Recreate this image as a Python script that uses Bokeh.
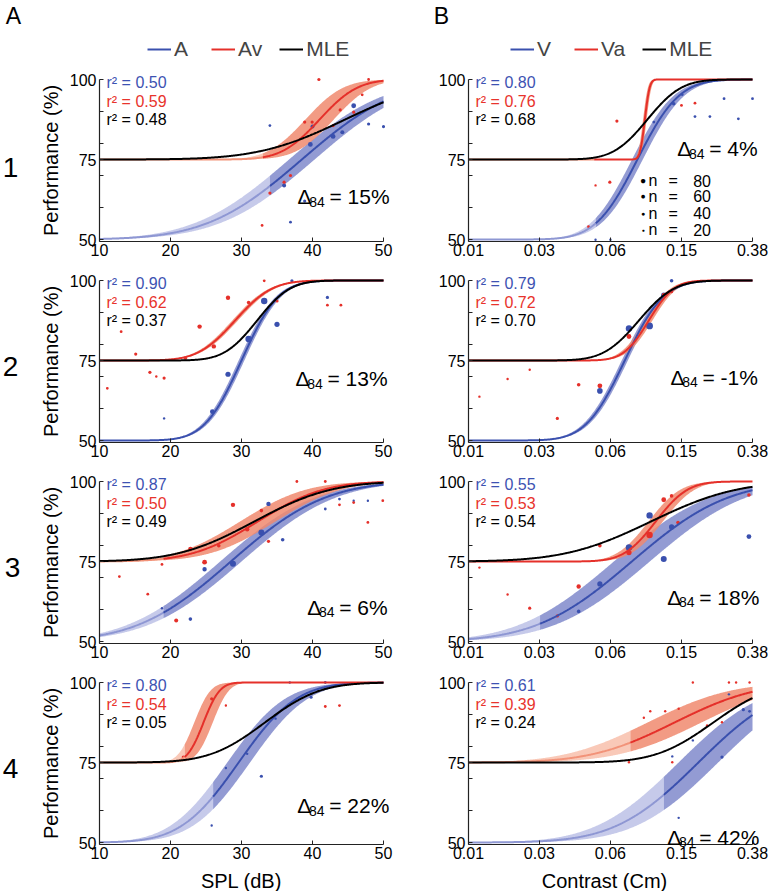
import math
import numpy as np
from bokeh.plotting import figure
from bokeh.layouts import column, row
from bokeh.models import (Label, Legend, LegendItem, FixedTicker, ColumnDataSource,
                          CustomJSTickFormatter)
from bokeh.embed import file_html
from bokeh.resources import INLINE

FONT = "Liberation Sans"

# ---------------- data ----------------
rows_ids = ["1", "2", "3", "4"]

# Left column: SPL (dB); psychometric fits (cumulative normal): mu, sd, CI shift, start of tested range
spl_blue_mu = [38.5, 30.0, 28.5, 29.6]
spl_blue_sd = [10.5, 4.1, 10.4, 6.4]
spl_blue_ci = [1.8, 0.4, 1.5, 1.6]
spl_blue_lo = [34, 10, 19, 26]
spl_red_mu = [41.0, 29.1, 32.3, 24.65]
spl_red_sd = [4.2, 4.1, 7.3, 1.8]
spl_red_ci = [2.0, 0.4, 2.5, 1.3]
spl_red_lo = [33, 10, 19, 22]
spl_mle_mu = [44.6, 32.2, 31.8, 33.3]
spl_mle_sd = [9.5, 3.64, 8.5, 6.1]

# Right column: contrast (Cm); mu in contrast, sd and CI in log10 units
con_blue_mu = [0.087, 0.074, 0.081, 0.19]
con_blue_sd = [0.182, 0.17, 0.419, 0.363]
con_blue_ci = [0.03, 0.017, 0.1, 0.11]
con_blue_lo = [0.051, 0.01, 0.025, 0.122]
con_red_mu = [0.0957, 0.1007, 0.11, 0.14]
con_red_sd = [0.0213, 0.11, 0.14, 0.363]
con_red_ci = [0.01, 0.02, 0.04, 0.15]
con_red_lo = [0.05, 0.01, 0.01, 0.0795]
con_mle_mu = [0.0989, 0.0887, 0.1035, 0.23]
con_mle_sd = [0.149, 0.154, 0.375, 0.253]

# r^2 values
spl_r2_blue = ["0.50", "0.90", "0.87", "0.80"]
spl_r2_red = ["0.59", "0.62", "0.50", "0.54"]
spl_r2_mle = ["0.48", "0.37", "0.49", "0.05"]
con_r2_blue = ["0.80", "0.79", "0.55", "0.61"]
con_r2_red = ["0.76", "0.72", "0.53", "0.39"]
con_r2_mle = ["0.68", "0.70", "0.54", "0.24"]

spl_delta = ["15%", "13%", "6%", "22%"]
con_delta = ["4%", "-1%", "18%", "42%"]

# data points: (x, performance %, n trials)
spl_blue_pts = [
    [(34, 85.6, 15), (40, 85.3, 30), (45.8, 91.8, 40), (47.9, 86.1, 20), (50, 85.3, 20),
     (39.7, 79.7, 40), (42.9, 82.2, 40), (44.2, 83.5, 30), (36, 66.9, 30), (38.9, 62, 20),
     (36.9, 55.4, 15)],
    [(19.1, 56.9, 10), (25.9, 59, 40), (28.1, 70.7, 45), (31, 81.7, 60), (33.2, 93.6, 60),
     (35, 86.3, 45), (37.1, 99.9, 20), (42.1, 94.7, 20)],
    [(18.8, 60.4, 10), (22.8, 57, 25), (24.8, 72.6, 35), (28.8, 74.3, 55), (32.8, 84.1, 55),
     (33.8, 93, 35), (35.8, 81.8, 25), (41.8, 91.4, 15), (43.8, 94.5, 15), (45.8, 94, 10),
     (47.8, 94, 10)],
    [(27.8, 73.3, 10), (25.8, 55.3, 10), (30.8, 77.7, 10), (32.8, 70.7, 20), (34.8, 88.7, 10),
     (36.8, 100, 10), (39.8, 95.4, 20), (41.8, 100, 15)],
]
spl_red_pts = [
    [(40.9, 100, 20), (38.9, 86.7, 20), (39.95, 86.7, 20), (43.9, 90.5, 20), (45.8, 89.8, 20),
     (47, 95.2, 15), (47.9, 100, 15), (42.9, 85.6, 20), (36.9, 70, 20), (36, 67.9, 20),
     (34, 64.5, 20), (32.9, 54.4, 15)],
    [(11.1, 66.3, 15), (13.05, 84, 15), (15.1, 77, 20), (17.1, 71.3, 20), (18, 70, 10),
     (19.1, 69.5, 20), (22.1, 75.7, 20), (24.1, 85.6, 35), (26.1, 79.4, 35), (28.1, 94.6, 35),
     (31, 93.1, 25), (33.2, 99.9, 15), (35, 93.6, 20), (42.1, 92.3, 15), (44, 92.3, 15)],
    [(12.8, 70.3, 15), (16.8, 64.8, 15), (18.8, 74.1, 15), (20.8, 56.6, 30), (22.8, 78.9, 35),
     (24.8, 74.8, 40), (26.8, 79.9, 25), (28.8, 92.7, 35), (30.8, 85.1, 35), (32.8, 90.9, 25),
     (33.8, 81.3, 20), (37.8, 100, 15), (41.8, 100, 15), (43.8, 92.7, 15), (45.8, 93.4, 15),
     (47.8, 87.2, 15), (49.9, 94, 15)],
    [(21.8, 76.7, 20), (25.8, 94.9, 20), (27.8, 92.8, 10), (41.8, 92.5, 15), (43.8, 92.8, 15)],
]
con_blue_pts = [
    [(0.1385, 92.4, 25), (0.1544, 95.3, 15), (0.1819, 88.4, 15), (0.2202, 88.4, 15),
     (0.264, 94, 15), (0.317, 87.7, 15), (0.38, 94, 15), (0.0509, 49.9, 10), (0.0616, 49.9, 10),
     (0.1074, 86.7, 15)],
    [(0.0538, 65.5, 50), (0.0781, 85, 60), (0.1017, 85.8, 65), (0.1219, 95.4, 45),
     (0.1348, 99.9, 25)],
    [(0.041, 59.4, 25), (0.0538, 68, 45), (0.0781, 79.4, 60), (0.1017, 89.4, 60),
     (0.1219, 75.8, 55), (0.1348, 85.8, 45), (0.363, 82.8, 40)],
    [(0.136, 76.9, 10), (0.177, 81.9, 10), (0.1476, 57.7, 10), (0.257, 76.7, 20),
     (0.281, 96.3, 10), (0.338, 91.5, 20), (0.366, 91, 15)],
]
con_red_pts = [
    [(0.0669, 87, 20), (0.0509, 66.9, 10), (0.0611, 67.9, 20), (0.153, 91.9, 15),
     (0.1819, 92.6, 15), (0.0465, 54, 15)],
    [(0.0115, 63.7, 10), (0.0165, 69.2, 10), (0.0219, 72.1, 10), (0.0312, 56.9, 20),
     (0.041, 67.4, 25), (0.0538, 67.1, 40), (0.0781, 82.5, 40), (0.1219, 95.5, 30),
     (0.1348, 96.5, 20)],
    [(0.0115, 73.1, 10), (0.0165, 64.7, 10), (0.0219, 60.4, 20), (0.0312, 58, 20),
     (0.041, 67.2, 35), (0.0538, 79.9, 25), (0.0781, 77.8, 45), (0.1017, 83.3, 60),
     (0.1219, 94.3, 40), (0.1348, 95.5, 25), (0.1463, 87.2, 25), (0.363, 95.8, 25)],
    [(0.0781, 75.1, 10), (0.0945, 89, 10), (0.1026, 91, 10), (0.1242, 91, 10),
     (0.1476, 91.8, 10), (0.177, 100, 10), (0.281, 100, 10), (0.308, 100, 10),
     (0.366, 100, 10), (0.136, 75.1, 10), (0.2124, 86.6, 10), (0.257, 87.6, 10)],
]

spl_ticks = [10, 20, 30, 40, 50]
con_ticks = [0.01, 0.0248, 0.0616, 0.153, 0.38]
con_tick_labels = ["0.01", "0.03", "0.06", "0.15", "0.38"]
perf_ticks = [50, 60, 70, 75, 80, 90, 100]
size_legend_n = [80, 60, 40, 20]

# ---------------- layout (page pixels) ----------------
ROW_TOP = [0, 265, 466, 667]
ROW_H = [265, 201, 201, 224]
Y100 = [79, 280, 481, 682]      # pixel row of 100 %
PXU = 3.2                        # pixels per % point
YMIN = 49.4                      # where the x axis sits
COL_X0 = [0, 393]
COL_W = [393, 380]
L_X10, L_PX = 99, 7.1            # SPL: x=10 pixel, px per dB
R_X0, R_W = 468, 284             # contrast: pixel of 0.01, width to 0.38

# ---------------- style ----------------
BLUE = "#3A50AE"
BLUE_L = "#8E97D3"
BLUE_BAND = "#8089CB"
BLUE_BAND_L = "#BCC1E6"
RED = "#E5302A"
RED_L = "#F29379"
RED_BAND = "#F08A6E"
RED_BAND_L = "#F8C0AC"
BLUE_TXT = "#3D52B2"
RED_TXT = "#E8332C"

_erf = np.vectorize(math.erf)


def psy(x, mu, sd, floor, log):
    if log:
        z = (np.log10(x) - np.log10(mu)) / sd
    else:
        z = (x - mu) / sd
    return floor + (100.0 - floor) * 0.5 * (1.0 + _erf(z / math.sqrt(2.0)))


def band_curve(p, xs, mu, sd, ci, lo, floor, log, cb, cbl):
    xs = np.union1d(xs, [lo])
    y = psy(xs, mu, sd, floor, log)
    if log:
        a = psy(xs, mu * 10 ** (-ci), sd, floor, log)
        b = psy(xs, mu * 10 ** ci, sd, floor, log)
    else:
        a = psy(xs, mu - ci, sd, floor, log)
        b = psy(xs, mu + ci, sd, floor, log)
    lower = np.minimum(a, b)
    upper = np.maximum(a, b)
    m1 = xs <= lo
    m2 = xs >= lo
    if m1.sum() > 1:
        p.varea(x=xs[m1], y1=lower[m1], y2=upper[m1], fill_color=cbl, fill_alpha=0.85)
    p.varea(x=xs[m2], y1=lower[m2], y2=upper[m2], fill_color=cb, fill_alpha=0.85)
    return xs, y, m1, m2


def draw_line(p, xs, y, m1, m2, cl, cll):
    if m1.sum() > 1:
        p.line(xs[m1], y[m1], line_color=cll, line_width=2)
    return p.line(xs[m2], y[m2], line_color=cl, line_width=2)


class Panel:
    def __init__(self, kind, i):
        c = 0 if kind == "spl" else 1
        self.x0 = COL_X0[c]
        self.top = ROW_TOP[i]
        self.h = ROW_H[i]
        w = COL_W[c]
        y_end = 100 + (Y100[i] - self.top) / PXU
        y_start = 100 - (self.top + self.h - Y100[i]) / PXU
        common = dict(width=w, height=self.h, y_range=(y_start, y_end), output_backend="svg",
                      toolbar_location=None, tools="", title_location=None)
        if kind == "spl":
            xs = spl_ticks[0] - (L_X10 - self.x0) / L_PX
            xe = spl_ticks[0] + (self.x0 + w - L_X10) / L_PX
            p = figure(x_range=(xs, xe), **common)
            xloc, xb = spl_ticks[0], (spl_ticks[0], spl_ticks[-1])
        else:
            f = (con_ticks[-1] / con_ticks[0]) ** (1.0 / R_W)
            xs = con_ticks[0] * f ** (-(R_X0 - self.x0))
            xe = con_ticks[-1] * f ** (self.x0 + w - (R_X0 + R_W))
            p = figure(x_axis_type="log", x_range=(xs, xe), **common)
            xloc, xb = con_ticks[0], (con_ticks[0], con_ticks[-1])
        p.min_border = 0
        p.min_border_left = p.min_border_right = p.min_border_top = p.min_border_bottom = 0
        p.outline_line_color = None
        p.xgrid.visible = False
        p.ygrid.visible = False
        p.background_fill_color = "white"
        p.border_fill_color = "white"
        for ax in (p.xaxis[0], p.yaxis[0]):
            ax.axis_line_color = "#222222"
            ax.axis_line_width = 1.2
            ax.major_tick_line_color = "#222222"
            ax.major_tick_in = 4
            ax.major_tick_out = 0
            ax.minor_tick_line_color = None
            ax.major_label_text_font = FONT
            ax.major_label_text_font_size = "16px"
            ax.major_label_text_color = "black"
            ax.major_label_standoff = 3
        p.xaxis[0].fixed_location = YMIN
        p.xaxis[0].bounds = xb
        p.yaxis[0].fixed_location = xloc
        p.yaxis[0].bounds = (YMIN, 100)
        p.yaxis.ticker = FixedTicker(ticks=perf_ticks)
        p.yaxis.major_label_overrides = {60: "", 70: "", 80: "", 90: ""}
        if kind == "spl":
            p.xaxis.ticker = FixedTicker(ticks=spl_ticks)
        else:
            p.xaxis.ticker = FixedTicker(ticks=con_ticks)
            p.xaxis.formatter = CustomJSTickFormatter(
                args=dict(vals=con_ticks, labels=con_tick_labels),
                code="""
                let best = 0;
                for (let i = 0; i < vals.length; i++) {
                  if (Math.abs(Math.log(vals[i] / tick)) < Math.abs(Math.log(vals[best] / tick))) best = i;
                }
                return labels[best];
                """)
        self.p = p

    def sx(self, X):
        return X - self.x0

    def sy(self, Y):
        return self.top + self.h - Y

    def lab(self, X, Y, text, size, color="black", align="left", baseline="alphabetic", angle=0.0):
        self.p.add_layout(Label(x=self.sx(X), y=self.sy(Y), x_units="screen", y_units="screen",
                                text=text, text_font=FONT, text_font_size=size,
                                text_color=color, text_align=align, text_baseline=baseline,
                                angle=angle))


def dots(p, pts, color):
    src = ColumnDataSource(dict(x=[q[0] for q in pts], y=[q[1] for q in pts],
                                s=[1.6 + 0.08 * q[2] for q in pts]))
    p.scatter("x", "y", size="s", source=src, fill_color=color, line_color=None)


spl_x = np.linspace(spl_ticks[0], spl_ticks[-1], 400)
con_x = np.logspace(math.log10(con_ticks[0]), math.log10(con_ticks[-1]), 400)

# Δ label anchors: (left of Δ, baseline) in page pixels
spl_delta_pos = [(297, 196), (295, 378), (306.7, 606.7), (296.7, 805)]
con_delta_pos = [(676.7, 148.3), (670, 376.7), (666.7, 596.7), (666.7, 836.7)]
row_label_pos = [(10, 167), (10, 366), (12, 567), (10, 768)]

figs = []
for i in range(4):
    L = Panel("spl", i)
    R = Panel("con", i)
    pl, pr = L.p, R.p

    bb = band_curve(pl, spl_x, spl_blue_mu[i], spl_blue_sd[i], spl_blue_ci[i], spl_blue_lo[i],
                    50, False, BLUE_BAND, BLUE_BAND_L)
    br = band_curve(pl, spl_x, spl_red_mu[i], spl_red_sd[i], spl_red_ci[i], spl_red_lo[i],
                    75, False, RED_BAND, RED_BAND_L)
    dots(pl, spl_blue_pts[i], BLUE)
    dots(pl, spl_red_pts[i], RED)
    lb = draw_line(pl, *bb, BLUE, BLUE_L)
    lr = draw_line(pl, *br, RED, RED_L)
    lm = pl.line(spl_x, psy(spl_x, spl_mle_mu[i], spl_mle_sd[i], 75, False),
                 line_color="black", line_width=2)

    cb = band_curve(pr, con_x, con_blue_mu[i], con_blue_sd[i], con_blue_ci[i], con_blue_lo[i],
                    50, True, BLUE_BAND, BLUE_BAND_L)
    cr = band_curve(pr, con_x, con_red_mu[i], con_red_sd[i], con_red_ci[i], con_red_lo[i],
                    75, True, RED_BAND, RED_BAND_L)
    dots(pr, con_blue_pts[i], BLUE)
    dots(pr, con_red_pts[i], RED)
    rb = draw_line(pr, *cb, BLUE, BLUE_L)
    rr = draw_line(pr, *cr, RED, RED_L)
    rm = pr.line(con_x, psy(con_x, con_mle_mu[i], con_mle_sd[i], 75, True),
                 line_color="black", line_width=2)

    # r^2 texts
    for P, X, vals in ((L, 106, (spl_r2_blue, spl_r2_red, spl_r2_mle)),
                       (R, 475, (con_r2_blue, con_r2_red, con_r2_mle))):
        for k, (v, c) in enumerate(zip(vals, (BLUE_TXT, RED_TXT, "black"))):
            P.lab(X, Y100[i] + 3.3 + 18.4 * k, "r\u00b2 = " + v[i], "16px", c, baseline="middle")

    # Δ84 texts
    for P, (X, Y), txt in ((L, spl_delta_pos[i], spl_delta[i]),
                           (R, con_delta_pos[i], con_delta[i])):
        P.lab(X, Y, "\u0394", "21px")
        P.lab(X + 11.7, Y + 5, "84", "14px")
        P.lab(X + 32, Y, "= " + txt, "21px")

    # row number and y-axis title
    L.lab(row_label_pos[i][0], row_label_pos[i][1], rows_ids[i], "28px",
          align="center", baseline="middle")
    L.lab(50, Y100[i] + 25 * PXU + 1, "Performance (%)", "20px", align="center",
          baseline="middle", angle=math.pi / 2)

    if i == 0:
        L.lab(13, 15, "A", "23px", align="center", baseline="middle")
        R.lab(441, 15, "B", "23px", align="center", baseline="middle")
        for P, its, X in ((L, [("A", lb), ("Av", lr), ("MLE", lm)], 147),
                          (R, [("V", rb), ("Va", rr), ("MLE", rm)], 510)):
            leg = Legend(items=[LegendItem(label=t, renderers=[r]) for t, r in its],
                         orientation="horizontal", location=(P.sx(X), P.sy(61)),
                         label_text_font=FONT, label_text_font_size="21px",
                         glyph_width=24, glyph_height=20, label_height=20,
                         label_standoff=3, spacing=17, padding=0, margin=0,
                         border_line_color=None, background_fill_alpha=0)
            P.p.add_layout(leg)
        # sample-size legend
        for n, Y in zip(size_legend_n, [180, 195.7, 212.7, 229]):
            R.lab(642.7, Y, "\u25cf", "%.1fpx" % (3.5 + n * 0.085), align="center",
                  baseline="middle")
            R.lab(648, Y, "n", "16px", baseline="middle")
            R.lab(668, Y, "=", "16px", baseline="middle")
            R.lab(692.7, Y, str(n), "16px", baseline="middle")
    if i == 3:
        L.lab(241, 880, "SPL (dB)", "20px", align="center")
        R.lab(604, 880, "Contrast (Cm)", "20px", align="center")

    figs.append(row(pl, pr))

layout = column(*figs)
open("out.html", "w").write(file_html(layout, INLINE))
